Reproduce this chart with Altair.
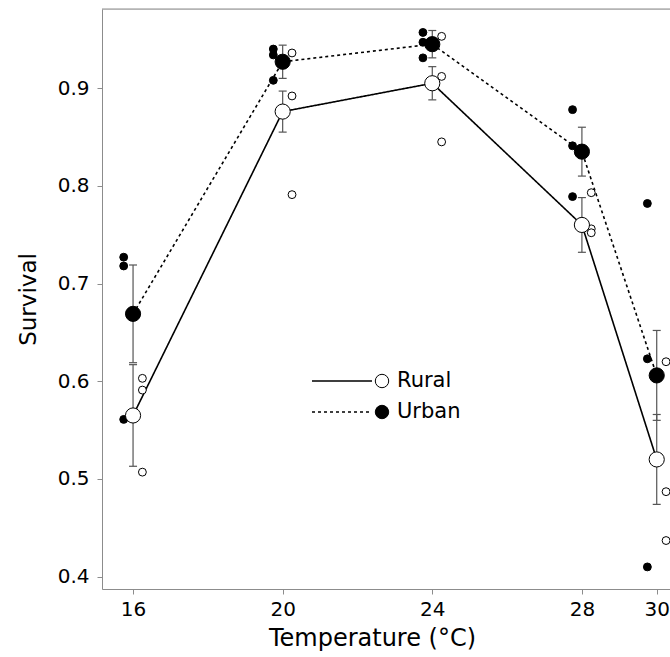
import altair as alt
import pandas as pd

# Survival by rearing temperature for rural and urban populations
temps = [16, 20, 24, 28, 30]
site_names = ["Rural", "Urban"]

rural_mean = [0.565, 0.876, 0.905, 0.760, 0.520]
rural_se = [0.052, 0.021, 0.017, 0.028, 0.046]
urban_mean = [0.669, 0.927, 0.945, 0.835, 0.606]
urban_se = [0.050, 0.017, 0.014, 0.025, 0.046]

# replicate (population-level) survival values at each temperature
rural_reps = [
    [0.603, 0.591, 0.507],
    [0.936, 0.892, 0.791],
    [0.953, 0.912, 0.845],
    [0.793, 0.756, 0.752],
    [0.620, 0.487, 0.437],
]
urban_reps = [
    [0.727, 0.718, 0.561],
    [0.940, 0.934, 0.908],
    [0.957, 0.947, 0.931],
    [0.878, 0.841, 0.789],
    [0.782, 0.623, 0.410],
]

# replicates are jittered sideways so they do not hide the means
rep_shift = {"Rural": 0.25, "Urban": -0.25}

mean_rows = []
for site, means, ses in [("Rural", rural_mean, rural_se), ("Urban", urban_mean, urban_se)]:
    for t, m, s in zip(temps, means, ses):
        mean_rows.append({"site": site, "temp": t, "survival": m, "lo": m - s, "hi": m + s})
means_df = pd.DataFrame(mean_rows)

rep_rows = []
for site, reps in [("Rural", rural_reps), ("Urban", urban_reps)]:
    for t, vals in zip(temps, reps):
        for v in vals:
            rep_rows.append({"site": site, "temp": t + rep_shift[site], "survival": v})
reps_df = pd.DataFrame(rep_rows)

W, H = 568, 580
AXIS_GREY = "#8c8c8c"
FONT = "DejaVu Sans"

x_scale = alt.Scale(domain=[15.17, 30.355], nice=False, zero=False)
y_scale = alt.Scale(domain=[0.3874, 0.981], nice=False, zero=False)
fill_scale = alt.Scale(domain=site_names, range=["white", "black"])
dash_scale = alt.Scale(domain=site_names, range=[[1, 0], [3, 3]])

x_axis = alt.Axis(
    values=temps, format="d", grid=False, title="Temperature (°C)",
    domainColor=AXIS_GREY, tickColor=AXIS_GREY, tickSize=5,
    labelFont=FONT, labelFontSize=20, labelColor="black", labelPadding=5,
    titleFont=FONT, titleFontSize=24, titleFontWeight="normal", titleColor="black",
    titlePadding=7, titleX=270, titleAlign="center",
)
y_axis = alt.Axis(
    values=[0.4, 0.5, 0.6, 0.7, 0.8, 0.9], format=".1f", grid=False, title="Survival",
    domainColor=AXIS_GREY, tickColor=AXIS_GREY, tickSize=5,
    labelFont=FONT, labelFontSize=20, labelColor="black", labelPadding=8,
    titleFont=FONT, titleFontSize=23, titleFontWeight="normal", titleColor="black",
    titlePadding=17,
)

X = alt.X("temp:Q", scale=x_scale, axis=x_axis)
Y = alt.Y("survival:Q", scale=y_scale, axis=y_axis)

frame_top = alt.Chart(pd.DataFrame({"k": [0]})).mark_rule(color=AXIS_GREY, strokeWidth=1).encode(
    x=alt.value(0), x2=alt.value(W), y=alt.value(0)
)

err_bars = alt.Chart(means_df).mark_rule(color="#555555", strokeWidth=1.2).encode(
    x=X, y=alt.Y("lo:Q", scale=y_scale), y2="hi:Q"
)
err_low = alt.Chart(means_df).mark_rule(color="#555555", strokeWidth=1.2, xOffset=-4, x2Offset=4).encode(
    x=X, x2="temp:Q", y=alt.Y("lo:Q", scale=y_scale)
)
err_high = alt.Chart(means_df).mark_rule(color="#555555", strokeWidth=1.2, xOffset=-4, x2Offset=4).encode(
    x=X, x2="temp:Q", y=alt.Y("hi:Q", scale=y_scale)
)

lines = alt.Chart(means_df).mark_line(color="black", strokeWidth=1.6).encode(
    x=X, y=Y,
    strokeDash=alt.StrokeDash("site:N", scale=dash_scale, legend=None),
    detail="site:N",
)

rep_points = alt.Chart(reps_df).mark_point(
    shape="circle", size=62, stroke="black", strokeWidth=1, opacity=1, fillOpacity=1
).encode(
    x=X, y=Y, fill=alt.Fill("site:N", scale=fill_scale, legend=None)
)

mean_points = alt.Chart(means_df).mark_point(
    shape="circle", size=230, stroke="black", strokeWidth=1, opacity=1, fillOpacity=1
).encode(
    x=X, y=Y, fill=alt.Fill("site:N", scale=fill_scale, legend=None)
)

# hand-built key: line sample, marker and label for each population type
key_layers = []
key_rows = {"Rural": (372, [1, 0], "white"), "Urban": (403, [3, 3], "black")}
one = pd.DataFrame({"k": [0]})
for name in site_names:
    ky, dash, fill = key_rows[name]
    key_layers.append(
        alt.Chart(one).mark_rule(color="black", strokeWidth=1.6, strokeDash=dash).encode(
            x=alt.value(210), x2=alt.value(270), y=alt.value(ky)
        )
    )
    key_layers.append(
        alt.Chart(one).mark_point(
            shape="circle", size=180, stroke="black", strokeWidth=1, fill=fill, opacity=1, fillOpacity=1
        ).encode(x=alt.value(280), y=alt.value(ky))
    )
    key_layers.append(
        alt.Chart(one).mark_text(
            text=name, font=FONT, fontSize=21, color="black", align="left", baseline="middle"
        ).encode(x=alt.value(295), y=alt.value(ky))
    )

chart = alt.layer(
    frame_top, err_bars, err_low, err_high, lines, rep_points, mean_points, *key_layers
).properties(
    width=W, height=H,
    autosize=alt.AutoSizeParams(type="none"),
    padding={"left": 102, "top": 9, "right": 0, "bottom": 68},
).configure_view(stroke=None).configure(background="white")

chart.save("out.html", embed_options={"renderer": "svg", "actions": False})
